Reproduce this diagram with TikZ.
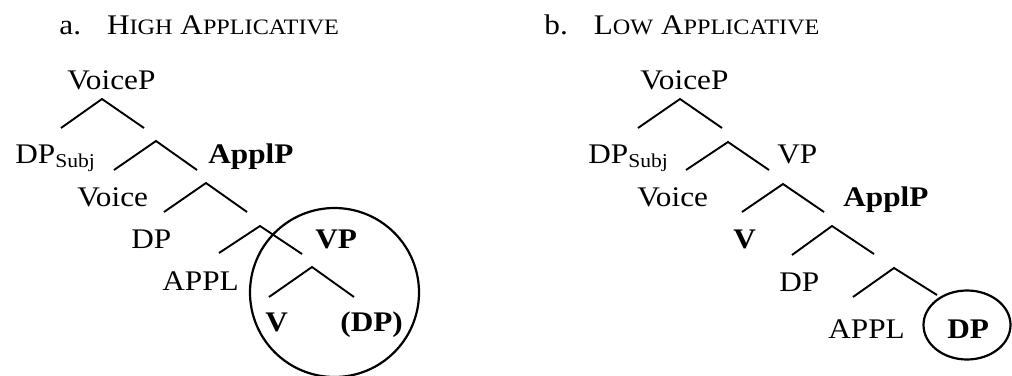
\documentclass[tikz,border=0pt]{standalone}
\usepackage{fontspec}
\setmainfont[FakeStretch=1.1]{Liberation Serif}
\usetikzlibrary{shapes.geometric}
\begin{document}
\begin{tikzpicture}[x=0.5pt,y=-0.5pt,
  lab/.style={anchor=base west,inner sep=0pt,font=\fontsize{14.2}{16}\selectfont},
  blab/.style={lab,font=\fontsize{14.2}{16}\selectfont\bfseries},
  br/.style={line width=0.95pt},
  ring/.style={line width=1.1pt}]
\useasboundingbox (0,0) rectangle (1012,375);
\newcommand{\subj}{\raisebox{-2pt}{\fontsize{9.8}{10}\selectfont Subj}}
\newcommand{\fsc}[1]{{\fontsize{11}{12}\selectfont #1}}
% ---------- a. High applicative ----------
\node[lab] (ta) at (59,34) {a.\hspace{13pt}H\fsc{IGH} A\fsc{PPLICATIVE}};
\node[lab] (a1) at (67,89) {VoiceP};
\node[lab] (a2) at (15,163) {DP\subj};
\node[blab] (a3) at (208,163) {ApplP};
\node[lab] (a4) at (77,206) {Voice};
\node[lab] (a5) at (131,248) {DP};
\node[blab] (a6) at (315,248) {VP};
\node[lab] (a7) at (162,290) {APPL};
\node[blab] (a8) at (265,331) {V};
\node[blab] (a9) at (340,331) {(DP)};
\coordinate (ap1) at (102,99);  \coordinate (al1) at (61,128);  \coordinate (ar1) at (144,128);
\coordinate (ap2) at (156,141); \coordinate (al2) at (114,170); \coordinate (ar2) at (197,170);
\coordinate (ap3) at (206,183); \coordinate (al3) at (164,212); \coordinate (ar3) at (247,212);
\coordinate (ap4) at (260,226); \coordinate (al4) at (219,253); \coordinate (ar4) at (302,254);
\coordinate (ap5) at (312,267); \coordinate (al5) at (269,297); \coordinate (ar5) at (354,297);
\foreach \i in {1,...,5} {\draw[br] (al\i) -- (ap\i) -- (ar\i);}
\node[draw,ring,circle,minimum size=169*0.5pt,inner sep=0pt] (ca) at (334.5,292.5) {};
% ---------- b. Low applicative ----------
\node[lab] (tb) at (544,34) {b.\hspace{13pt}L\fsc{OW} A\fsc{PPLICATIVE}};
\node[lab] (b1) at (640,89) {VoiceP};
\node[lab] (b2) at (588,163) {DP\subj};
\node[lab] (b3) at (777,163) {VP};
\node[lab] (b4) at (637,206) {Voice};
\node[blab] (b5) at (843,206) {ApplP};
\node[blab] (b6) at (733,248) {V};
\node[lab] (b7) at (779,291) {DP};
\node[lab] (b8) at (828,338) {APPL};
\node[blab] (b9) at (947,338) {DP};
\coordinate (bp1) at (680,99);  \coordinate (bl1) at (638,128); \coordinate (br1) at (722,128);
\coordinate (bp2) at (728,142); \coordinate (bl2) at (686,170); \coordinate (br2) at (769,170);
\coordinate (bp3) at (783,184); \coordinate (bl3) at (742,212); \coordinate (br3) at (824,212);
\coordinate (bp4) at (832,226); \coordinate (bl4) at (792,255); \coordinate (br4) at (874,254);
\coordinate (bp5) at (894,268); \coordinate (bl5) at (853,297); \coordinate (br5) at (937,295);
\foreach \i in {1,...,5} {\draw[br] (bl\i) -- (bp\i) -- (br\i);}
\node[draw,ring,ellipse,minimum width=87*0.5pt,minimum height=69*0.5pt,inner sep=0pt] (cb) at (967,325) {};
\end{tikzpicture}
\end{document}
